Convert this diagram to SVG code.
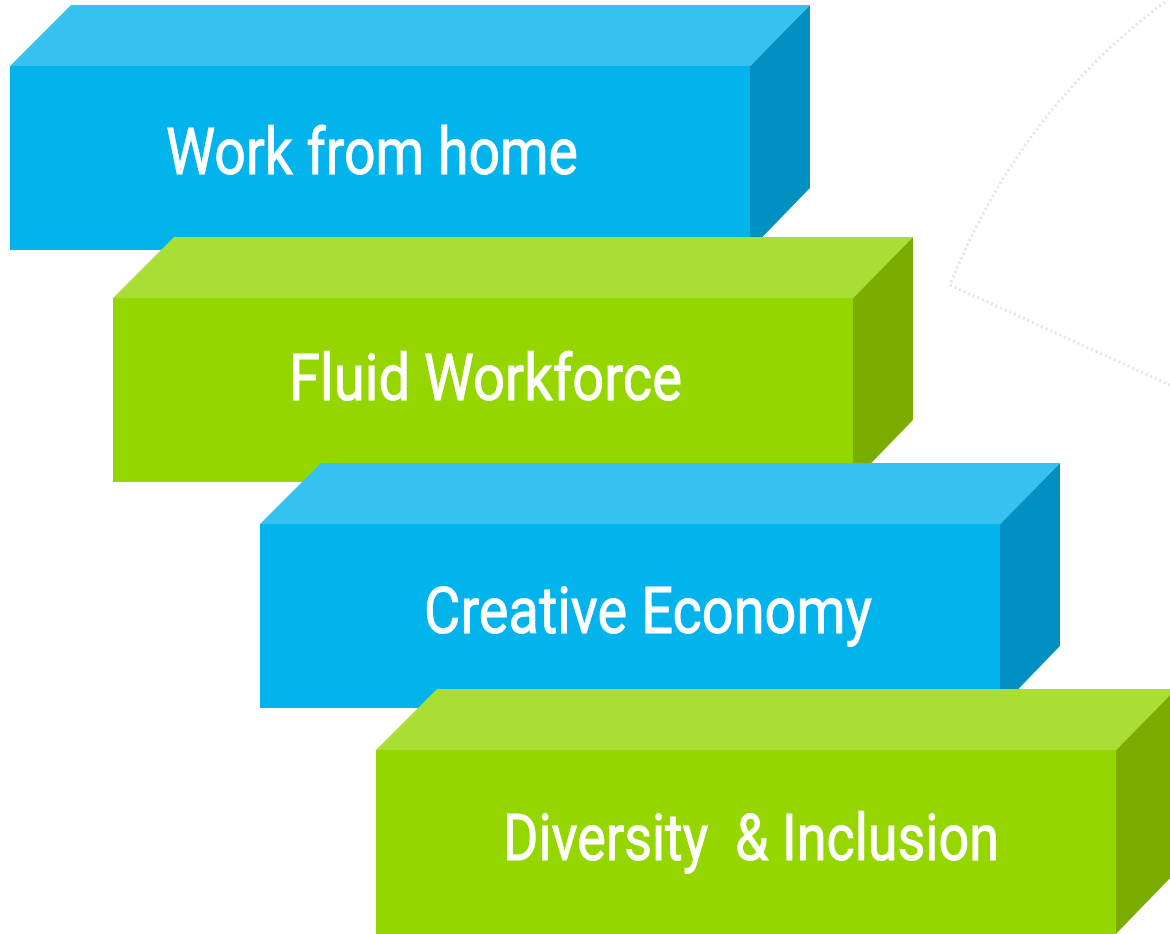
<svg xmlns="http://www.w3.org/2000/svg" width="1170" height="934" viewBox="0 0 1170 934">
  <style>
    .bf { fill: #02B3EC; }
    .bt { fill: #35C2F1; }
    .bs { fill: #0190C1; }
    .gf { fill: #95D600; }
    .gt { fill: #A9DE34; }
    .gs { fill: #7AAD00; }
    .lbl { fill: #FFFFFF; stroke: #FFFFFF; stroke-width: 0.9; font-family: "Roboto", "Liberation Sans", sans-serif; font-size: 65px; white-space: pre; }
    .sketch { fill: none; stroke: #D8D8D8; stroke-width: 3; stroke-dasharray: 2 3; opacity: 0.7; }
  </style>
  <rect x="0" y="0" width="1170" height="934" fill="#FFFFFF"/>
  <g id="background-sketch">
    <path class="sketch" d="M1165,2 Q1020,110 950,285 Q1060,335 1170,385"/>
  </g>
  <g id="box-work-from-home" transform="translate(10,66)">
    <polygon class="bt" points="0,0 61,-61 800,-61 740,0"/>
    <polygon class="bs" points="740,0 800,-61 800,122 740,184"/>
    <rect class="bf" x="0" y="0" width="740" height="184"/>
    <text class="lbl" x="156" y="108" textLength="412" lengthAdjust="spacingAndGlyphs">Work from home</text>
  </g>
  <g id="box-fluid-workforce" transform="translate(113,298)">
    <polygon class="gt" points="0,0 61,-61 800,-61 740,0"/>
    <polygon class="gs" points="740,0 800,-61 800,122 740,184"/>
    <rect class="gf" x="0" y="0" width="740" height="184"/>
    <text class="lbl" x="176" y="102" textLength="393" lengthAdjust="spacingAndGlyphs">Fluid Workforce</text>
  </g>
  <g id="box-creative-economy" transform="translate(260,524)">
    <polygon class="bt" points="0,0 61,-61 800,-61 740,0"/>
    <polygon class="bs" points="740,0 800,-61 800,122 740,184"/>
    <rect class="bf" x="0" y="0" width="740" height="184"/>
    <text class="lbl" x="164" y="109" textLength="448" lengthAdjust="spacingAndGlyphs">Creative Economy</text>
  </g>
  <g id="box-diversity-inclusion" transform="translate(376,750)">
    <polygon class="gt" points="0,0 61,-61 800,-61 740,0"/>
    <polygon class="gs" points="740,0 800,-61 800,122 740,184"/>
    <rect class="gf" x="0" y="0" width="740" height="184"/>
    <text class="lbl" x="127" y="110" textLength="496" lengthAdjust="spacingAndGlyphs">Diversity  &amp; Inclusion</text>
  </g>
</svg>
